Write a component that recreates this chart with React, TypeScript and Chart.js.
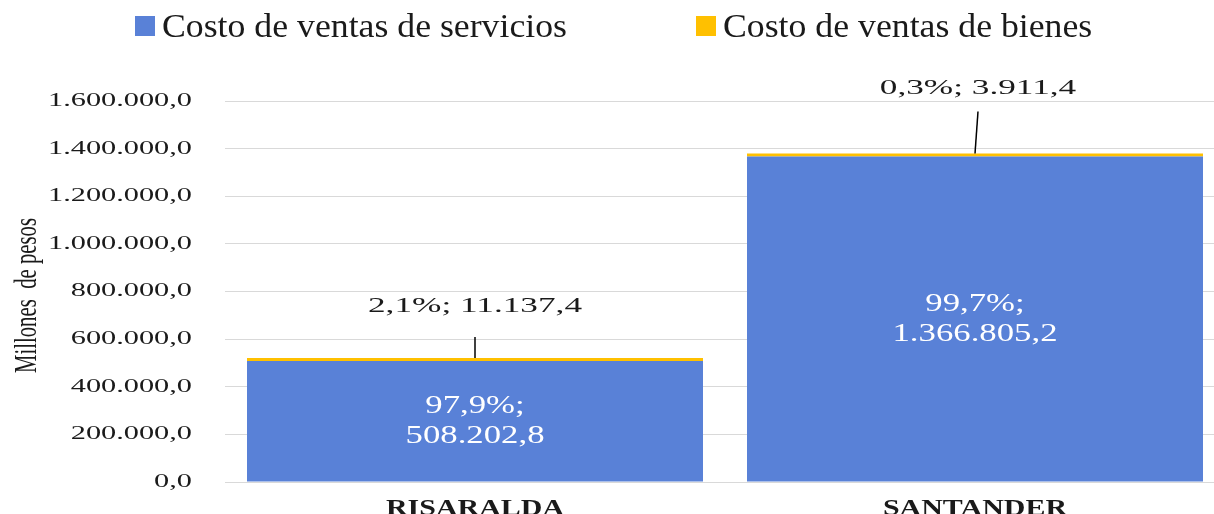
import React, { useEffect, useRef } from 'react';
import { Chart, registerables } from 'chart.js';

Chart.register(...registerables);

// ---------- DATA ----------
const categories = ['RISARALDA', 'SANTANDER'];
const seriesNames = ['Costo de ventas de servicios', 'Costo de ventas de bienes'];
const serviciosValues = [508202.8, 1366805.2];
const bienesValues = [11137.4, 3911.4];
const yTickValues = [0, 200000, 400000, 600000, 800000, 1000000, 1200000, 1400000, 1600000];
const yAxisTitle = 'Millones  de pesos';

// ---------- STYLE ----------
const COLORS = {
  servicios: '#5981D7',
  bienes: '#FFC000',
  grid: '#D9D9D9',
  text: '#1A1A1A',
  white: '#FFFFFF',
  leader: '#000000',
};
const FONT = "'Liberation Serif', 'Times New Roman', Times, serif";

const W = 1214;
const H = 514;
const CANVAS_W = 1225; // plot area runs slightly past the visible right edge

// outside (bienes) label placement relative to top of stacked bar
const OUTSIDE_LABEL = [
  { dx: 0, dy: -52, lineTop: -21, lineDx: 0 },
  { dx: 3, dy: -65, lineTop: -42, lineDx: 3 },
];

function fmt(v: number, decimals = 1): string {
  const s = Math.abs(v).toFixed(decimals);
  const [intPart, decPart] = s.split('.');
  const withSep = intPart.replace(/\B(?=(\d{3})+(?!\d))/g, '.');
  return (v < 0 ? '-' : '') + withSep + (decPart ? ',' + decPart : '');
}

function drawText(
  ctx: CanvasRenderingContext2D,
  text: string,
  x: number,
  y: number,
  font: string,
  color: string,
  sx: number,
  align: CanvasTextAlign,
  baseline: CanvasTextBaseline,
  rotate = 0
) {
  ctx.save();
  ctx.translate(x, y);
  if (rotate) ctx.rotate(rotate);
  ctx.scale(sx, 1);
  ctx.font = font;
  ctx.fillStyle = color;
  ctx.textAlign = align;
  ctx.textBaseline = baseline;
  ctx.fillText(text, 0, 0);
  ctx.restore();
}

function widthOf(ctx: CanvasRenderingContext2D, font: string, text: string) {
  ctx.save();
  ctx.font = font;
  const w = ctx.measureText(text).width;
  ctx.restore();
  return w;
}

const textPlugin = {
  id: 'stretchedText',
  afterDraw(chart: any) {
    const ctx: CanvasRenderingContext2D = chart.ctx;
    const yScale = chart.scales.y;
    const xScale = chart.scales.x;

    // Y tick labels
    const tickFont = `19px ${FONT}`;
    const maxLabel = fmt(yTickValues[yTickValues.length - 1]);
    const sxTick = 144 / widthOf(ctx, tickFont, maxLabel);
    yTickValues.forEach((v) => {
      drawText(ctx, fmt(v), 192, yScale.getPixelForValue(v), tickFont, COLORS.text, sxTick, 'right', 'middle');
    });

    // Y axis title
    const titleFont = `32px ${FONT}`;
    const sxTitle = 155 / widthOf(ctx, titleFont, yAxisTitle);
    drawText(ctx, yAxisTitle, 36, 295.5, titleFont, COLORS.text, sxTitle, 'center', 'alphabetic', -Math.PI / 2);

    // Legend
    const legFont = `33px ${FONT}`;
    const sxLeg = 405 / widthOf(ctx, legFont, seriesNames[0]);
    const legendItems = [
      { x: 135, color: COLORS.servicios, textX: 162 },
      { x: 696, color: COLORS.bienes, textX: 723 },
    ];
    legendItems.forEach((it, i) => {
      ctx.fillStyle = it.color;
      ctx.fillRect(it.x, 16, 20, 20);
      drawText(ctx, seriesNames[i], it.textX, 36.5, legFont, COLORS.text, sxLeg, 'left', 'alphabetic');
    });

    // X category labels
    const xFont = `bold 23px ${FONT}`;
    const sxX = 178 / widthOf(ctx, xFont, categories[0]);
    categories.forEach((c, i) => {
      drawText(ctx, c, xScale.getPixelForValue(i), 515, xFont, COLORS.text, sxX, 'center', 'alphabetic');
    });

    // Data labels
    const meta0 = chart.getDatasetMeta(0);
    const meta1 = chart.getDatasetMeta(1);
    const inFont = `25px ${FONT}`;
    const sxIn = 139 / widthOf(ctx, inFont, fmt(serviciosValues[0]));
    const outFont = `22px ${FONT}`;
    const total0 = serviciosValues[0] + bienesValues[0];
    const sampleOut = fmt((bienesValues[0] / total0) * 100) + '%; ' + fmt(bienesValues[0]);
    const sxOut = 214 / widthOf(ctx, outFont, sampleOut);

    categories.forEach((_, i) => {
      const total = serviciosValues[i] + bienesValues[i];
      const pS = (serviciosValues[i] / total) * 100;
      const pB = (bienesValues[i] / total) * 100;

      const bar = meta0.data[i];
      const cy = (bar.y + bar.base) / 2;
      drawText(ctx, fmt(pS) + '%;', bar.x, cy - 15, inFont, COLORS.white, sxIn, 'center', 'middle');
      drawText(ctx, fmt(serviciosValues[i]), bar.x, cy + 15, inFont, COLORS.white, sxIn, 'center', 'middle');

      const top = meta1.data[i].y;
      const o = OUTSIDE_LABEL[i];
      ctx.save();
      ctx.strokeStyle = COLORS.leader;
      ctx.lineWidth = 1.5;
      ctx.beginPath();
      ctx.moveTo(bar.x + o.lineDx, top + o.lineTop);
      ctx.lineTo(bar.x, top);
      ctx.stroke();
      ctx.restore();
      drawText(ctx, fmt(pB) + '%; ' + fmt(bienesValues[i]), bar.x + o.dx, top + o.dy, outFont, COLORS.text, sxOut, 'center', 'middle');
    });
  },
};

export default function App() {
  const canvasRef = useRef<HTMLCanvasElement | null>(null);

  useEffect(() => {
    if (!canvasRef.current) return;
    Chart.defaults.font.family = FONT;
    const chart = new Chart(canvasRef.current, {
      type: 'bar',
      data: {
        labels: categories,
        datasets: [
          {
            label: seriesNames[0],
            data: serviciosValues,
            backgroundColor: COLORS.servicios,
            borderWidth: 0,
            barPercentage: 0.912,
            categoryPercentage: 1,
          },
          {
            label: seriesNames[1],
            data: bienesValues,
            backgroundColor: COLORS.bienes,
            borderWidth: 0,
            barPercentage: 0.912,
            categoryPercentage: 1,
            minBarLength: 3,
          },
        ],
      },
      options: {
        animation: false,
        responsive: false,
        devicePixelRatio: 1,
        layout: { padding: { left: 225, right: 0, top: 101, bottom: 32 } },
        plugins: {
          legend: { display: false },
          tooltip: { enabled: false },
          title: { display: false },
        },
        scales: {
          x: {
            stacked: true,
            grid: { display: false },
            border: { display: false },
            ticks: { display: false },
            afterFit: (s: any) => {
              s.height = 0;
            },
          },
          y: {
            stacked: true,
            min: 0,
            max: 1600000,
            afterBuildTicks: (s: any) => {
              s.ticks = yTickValues.map((v) => ({ value: v }));
            },
            grid: { color: COLORS.grid, lineWidth: 1, drawTicks: false },
            border: { display: false },
            ticks: { display: false },
            afterFit: (s: any) => {
              s.width = 0;
            },
          },
        },
      } as any,
      plugins: [textPlugin],
    });
    return () => chart.destroy();
  }, []);

  return (
    <div
      style={{
        position: 'absolute',
        left: 0,
        top: 0,
        width: W,
        height: H,
        overflow: 'hidden',
        background: '#fff',
      }}
    >
      <canvas ref={canvasRef} width={CANVAS_W} height={H} style={{ display: 'block' }} />
    </div>
  );
}
